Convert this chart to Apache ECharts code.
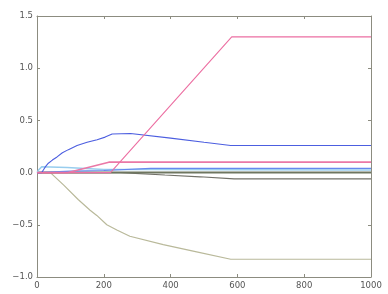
<!DOCTYPE html>
<html><head><meta charset="utf-8">
<script src="https://cdn.jsdelivr.net/npm/echarts@6/dist/echarts.min.js"></script>
<style>html,body{margin:0;padding:0;background:#fff}#c{width:388px;height:294px}</style>
</head><body><div id="c"></div>
<script>
const xTicks = [0, 200, 400, 600, 800, 1000];
const yTicks = [-1.0, -0.5, 0.0, 0.5, 1.0, 1.5];
const pinkUpper = [[0,0],[220,0],[583,1.3],[1000,1.3]];
const pinkLower = [[0,0],[93,0],[215,0.1],[1000,0.1]];
const darkBlue = [[0,0],[14,0],[20,0.03],[26,0.06],[34,0.09],[46,0.12],[60,0.15],[76,0.19],[94,0.22],[120,0.26],[150,0.29],[180,0.315],[204,0.34],[225,0.37],[280,0.375],[400,0.33],[500,0.29],[580,0.26],[1000,0.26]];
const lightBlue = [[0,0],[6,0.03],[14,0.055],[90,0.05],[200,0.03],[350,0.03],[600,0.028],[1000,0.025]];
const midBlue = [[0,0],[100,0.015],[200,0.02],[340,0.04],[1000,0.04]];
const khaki = [[0,0],[40,0],[80,-0.12],[124,-0.26],[159,-0.36],[179,-0.41],[209,-0.5],[239,-0.55],[278,-0.61],[378,-0.69],[478,-0.76],[580,-0.83],[1000,-0.83]];
const darkGray = [[0,0],[250,0],[383,-0.023],[488,-0.04],[590,-0.06],[1000,-0.06]];
const zeroLine = [[0,0],[1000,0]];

const frame = '#8c8c80';
const lbl = {color:'#555', fontSize:8.5, fontFamily:'DejaVu Sans'};
function mkX(pos, show){
  return {type:'value', min:0, max:1000, interval:200, position:pos,
    axisLine:{show:true, onZero:false, lineStyle:{color:frame, width:1}},
    axisTick:{show:true, inside:true, length:3, lineStyle:{color:frame}},
    axisLabel:Object.assign({show:show, margin:4, formatter:v=>String(v)}, lbl),
    splitLine:{show:false}};
}
function mkY(pos, show){
  return {type:'value', min:-1.0, max:1.5, interval:0.5, position:pos,
    axisLine:{show:true, onZero:false, lineStyle:{color:frame, width:1}},
    axisTick:{show:true, inside:true, length:3, lineStyle:{color:frame}},
    axisLabel:Object.assign({show:show, margin:4, formatter:v=>(v<0?'\u2212':'')+Math.abs(v).toFixed(1)}, lbl),
    splitLine:{show:false}};
}
function ln(data, color, w, z){
  return {type:'line', data:data, symbol:'none', xAxisIndex:0, yAxisIndex:0, z:z||2,
    lineStyle:{color:color, width:w}, animation:false};
}
const chart = echarts.init(document.getElementById('c'), null, {renderer:'canvas'});
chart.setOption({
  animation:false,
  grid:{left:37, right:17, top:16, bottom:17, containLabel:false},
  xAxis:[mkX('bottom', true), mkX('top', false)],
  yAxis:[mkY('left', true), mkY('right', false)],
  series:[
    ln(khaki, '#b9b99a', 1.2),
    ln(darkGray, '#707068', 1.2),
    ln(zeroLine, '#6e7660', 2),
    ln(lightBlue, '#98cdee', 1.5),
    ln(midBlue, '#6688ee', 1.2),
    ln(pinkLower, '#ea78a6', 1.6),
    ln(darkBlue, '#4c5ee0', 1.1),
    ln(pinkUpper, '#ec6fa2', 1.1)
  ]
});
</script></body></html>
